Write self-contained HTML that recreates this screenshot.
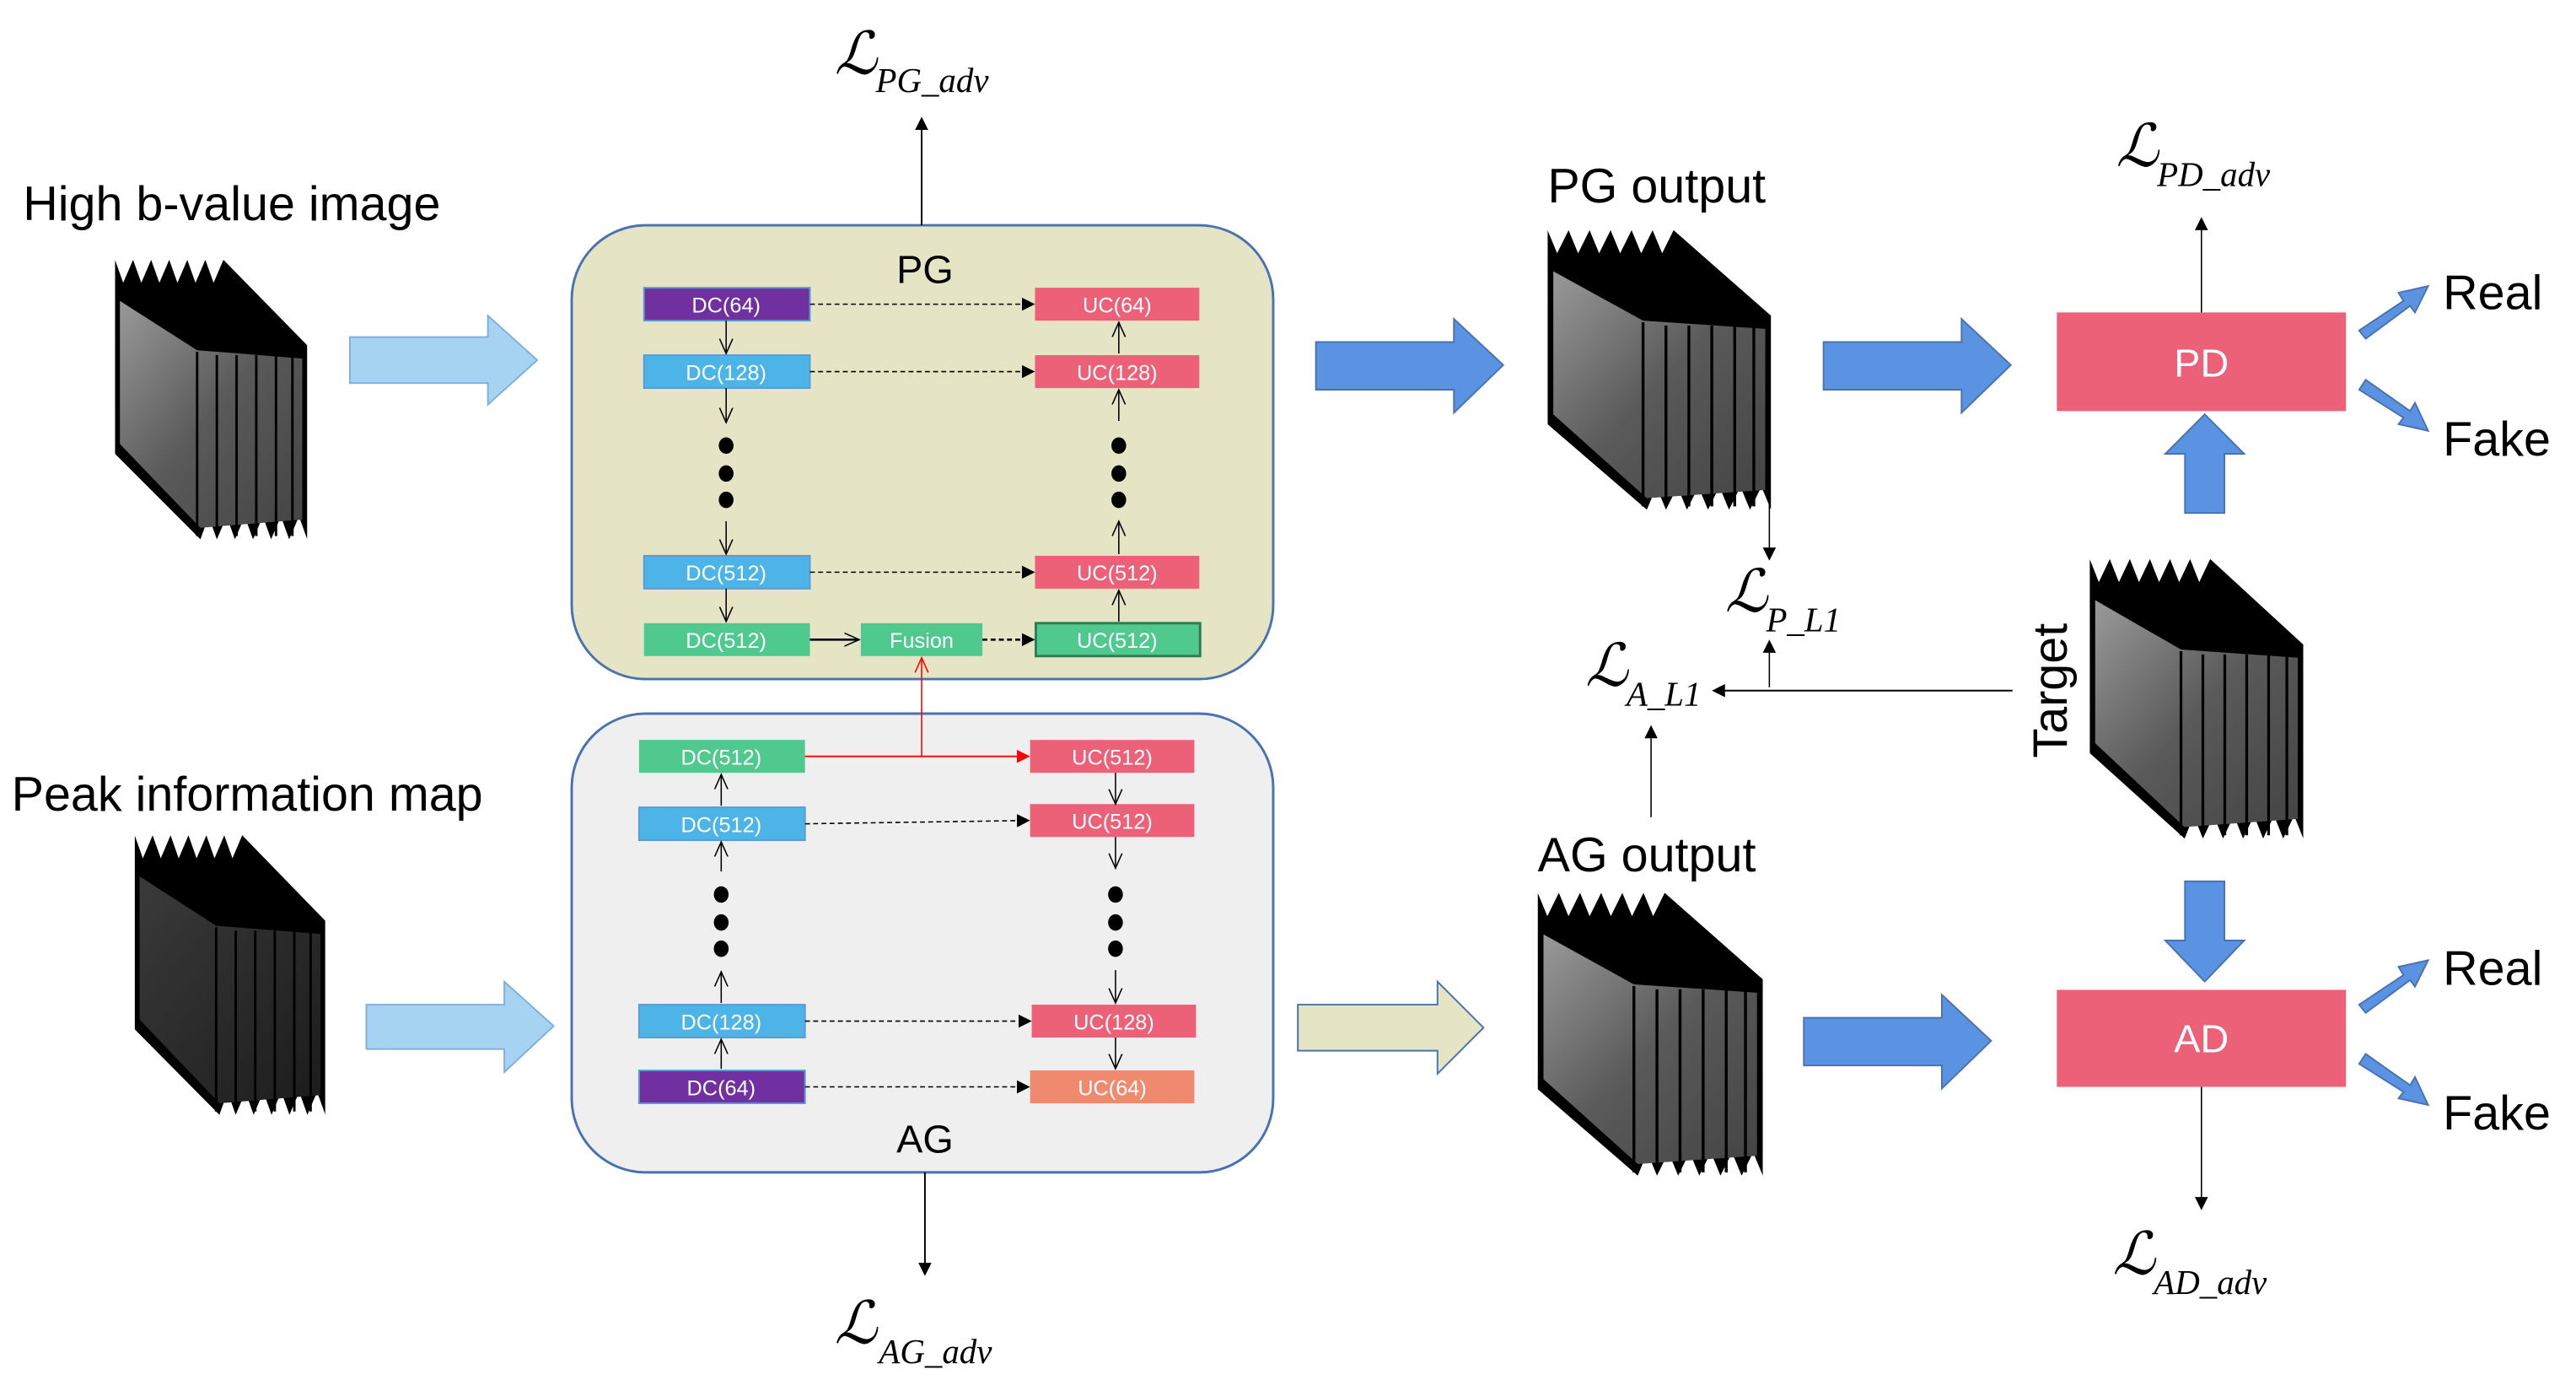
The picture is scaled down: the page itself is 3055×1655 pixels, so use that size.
<!DOCTYPE html>
<html><head><meta charset="utf-8"><style>
html,body{margin:0;padding:0;background:#fff;}
svg{display:block;}
text{font-family:"Liberation Sans",sans-serif;}
.l{font-family:"Liberation Serif","DejaVu Serif",serif;font-style:italic;}
.bx{font-size:13px;fill:#fff;text-anchor:middle;}
</style></head><body>
<svg width="3055" height="1655" viewBox="0 0 1568 849" preserveAspectRatio="none" xmlns="http://www.w3.org/2000/svg">
<defs>
<marker id="ah" markerWidth="8" markerHeight="8" refX="7" refY="4" orient="auto" markerUnits="userSpaceOnUse"><path d="M0,0 L8,4 L0,8 Z" fill="#000"/></marker>
<marker id="ahr" markerWidth="8" markerHeight="8" refX="7" refY="4" orient="auto" markerUnits="userSpaceOnUse"><path d="M0,0 L8,4 L0,8 Z" fill="#f00"/></marker>
<marker id="oa" markerWidth="10" markerHeight="10" refX="9" refY="5" orient="auto" markerUnits="userSpaceOnUse"><path d="M0,1 L9,5 L0,9" fill="none" stroke="#000" stroke-width="0.8"/></marker>
<marker id="oar" markerWidth="10" markerHeight="10" refX="9" refY="5" orient="auto" markerUnits="userSpaceOnUse"><path d="M0,1 L9,5 L0,9" fill="none" stroke="#f00" stroke-width="0.8"/></marker>
<linearGradient id="gray" x1="0" y1="0" x2="1" y2="1"><stop offset="0" stop-color="#999"/><stop offset="0.5" stop-color="#5a5a5a"/><stop offset="1" stop-color="#444"/></linearGradient>
<linearGradient id="dark" x1="0" y1="0" x2="1" y2="1"><stop offset="0" stop-color="#3a3a3a"/><stop offset="1" stop-color="#1c1c1c"/></linearGradient>
<symbol id="stk" viewBox="0 0 117 170" preserveAspectRatio="none">
<polygon points="0,0 5,14 11,0 16,14 22,0 27,14 33,0 38,14 44,0 49,14 55,0 60,14 66,0 117,52 117,170 112,156 106,170 101,156 95,170 90,156 84,170 79,156 73,170 68,156 62,170 57,156 52,170 0,118" fill="#000"/>
<polygon points="3,25 50,55 114,60 114,158 52,163 3,112" fill="url(#gray)"/>
<g stroke="#000" stroke-width="1.5"><line x1="50" y1="56" x2="50" y2="168"/><line x1="62" y1="58" x2="62" y2="168"/><line x1="74" y1="58" x2="74" y2="168"/><line x1="86" y1="58" x2="86" y2="168"/><line x1="98" y1="58" x2="98" y2="168"/><line x1="108" y1="58" x2="108" y2="168"/></g>
</symbol>
<symbol id="stkd" viewBox="0 0 117 170" preserveAspectRatio="none">
<polygon points="0,0 5,14 11,0 16,14 22,0 27,14 33,0 38,14 44,0 49,14 55,0 60,14 66,0 117,52 117,170 112,156 106,170 101,156 95,170 90,156 84,170 79,156 73,170 68,156 62,170 57,156 52,170 0,118" fill="#000"/>
<polygon points="3,25 50,55 114,60 114,158 52,163 3,112" fill="url(#dark)"/>
<g stroke="#000" stroke-width="1.5"><line x1="50" y1="56" x2="50" y2="168"/><line x1="62" y1="58" x2="62" y2="168"/><line x1="74" y1="58" x2="74" y2="168"/><line x1="86" y1="58" x2="86" y2="168"/><line x1="98" y1="58" x2="98" y2="168"/><line x1="108" y1="58" x2="108" y2="168"/></g>
</symbol>
</defs>

<text x="14" y="134" font-size="29.5">High b-value image</text>
<text x="7" y="493" font-size="29.5">Peak information map</text>

<use href="#stk" x="70" y="158" width="117" height="170"/>
<use href="#stkd" x="82" y="508" width="116" height="170"/>

<path d="M213,205 H297 V192 L327,219 L297,246 V233 H213 Z" fill="#a7d3f2" stroke="#7fb0dc" stroke-width="1"/>
<path d="M223,611 H307 V597 L337,624 L307,652 V638 H223 Z" fill="#a7d3f2" stroke="#7fb0dc" stroke-width="1"/>

<!-- PG box -->
<rect x="348" y="137" width="427" height="276" rx="45" fill="#e5e5c5" stroke="#4a72b0" stroke-width="1.5"/>
<text x="563" y="172" font-size="24" text-anchor="middle">PG</text>
<line x1="561" y1="137" x2="561" y2="72" stroke="#000" stroke-width="1" marker-end="url(#ah)"/>
<text x="508" y="45" class="l" font-size="36">ℒ</text><text x="533" y="56" class="l" font-size="21">PG_adv</text>

<rect x="392" y="175" width="101" height="20" fill="#7030a0" stroke="#5b9bd5" stroke-width="1"/><text x="442" y="190" class="bx">DC(64)</text>
<rect x="392" y="216" width="101" height="20" fill="#4db4e8" stroke="#5b9bd5" stroke-width="1"/><text x="442" y="231" class="bx">DC(128)</text>
<rect x="392" y="338" width="101" height="20" fill="#4db4e8" stroke="#5b9bd5" stroke-width="1"/><text x="442" y="353" class="bx">DC(512)</text>
<rect x="392" y="379" width="101" height="20" fill="#4fc98e"/><text x="442" y="394" class="bx">DC(512)</text>
<rect x="524" y="379" width="74" height="20" fill="#4fc98e"/><text x="561" y="394" class="bx">Fusion</text>
<rect x="630" y="175" width="100" height="20" fill="#ec6078"/><text x="680" y="190" class="bx">UC(64)</text>
<rect x="630" y="216" width="100" height="20" fill="#ec6078"/><text x="680" y="231" class="bx">UC(128)</text>
<rect x="630" y="338" width="100" height="20" fill="#ec6078"/><text x="680" y="353" class="bx">UC(512)</text>
<rect x="630.5" y="379" width="100" height="20" fill="#4fc98e" stroke="#2e7d50" stroke-width="1.5"/><text x="680" y="394" class="bx">UC(512)</text>
<g stroke="#000" stroke-width="0.8" stroke-dasharray="3,2">
<line x1="493" y1="185" x2="629" y2="185" marker-end="url(#ah)"/>
<line x1="493" y1="226" x2="629" y2="226" marker-end="url(#ah)"/>
<line x1="493" y1="348" x2="629" y2="348" marker-end="url(#ah)"/>
<line x1="598" y1="389" x2="629" y2="389" marker-end="url(#ah)" stroke-width="1.3"/>
</g>
<line x1="493" y1="389" x2="523" y2="389" stroke="#000" stroke-width="1.3" marker-end="url(#oa)"/>
<g stroke="#000" stroke-width="0.8">
<line x1="442" y1="195" x2="442" y2="215" marker-end="url(#oa)"/>
<line x1="442" y1="236" x2="442" y2="257" marker-end="url(#oa)"/>
<line x1="442" y1="317" x2="442" y2="337" marker-end="url(#oa)"/>
<line x1="442" y1="358" x2="442" y2="378" marker-end="url(#oa)"/>
<line x1="681" y1="215" x2="681" y2="196" marker-end="url(#oa)"/>
<line x1="681" y1="256" x2="681" y2="237" marker-end="url(#oa)"/>
<line x1="681" y1="337" x2="681" y2="317" marker-end="url(#oa)"/>
<line x1="681" y1="378" x2="681" y2="359" marker-end="url(#oa)"/>
</g>
<g fill="#000"><ellipse cx="442" cy="271" rx="4.5" ry="5"/><ellipse cx="442" cy="288" rx="4.5" ry="5"/><ellipse cx="442" cy="304" rx="4.5" ry="5"/>
<ellipse cx="681" cy="271" rx="4.5" ry="5"/><ellipse cx="681" cy="288" rx="4.5" ry="5"/><ellipse cx="681" cy="304" rx="4.5" ry="5"/></g>

<!-- AG box -->
<rect x="348" y="434" width="427" height="279" rx="45" fill="#efefef" stroke="#4a72b0" stroke-width="1.5"/>
<text x="563" y="701" font-size="24" text-anchor="middle">AG</text>
<line x1="563" y1="713" x2="563" y2="775" stroke="#000" stroke-width="1" marker-end="url(#ah)"/>
<text x="508" y="817" class="l" font-size="36">ℒ</text><text x="535" y="829" class="l" font-size="21">AG_adv</text>

<rect x="389" y="450" width="101" height="20" fill="#4fc98e"/><text x="439" y="465" class="bx">DC(512)</text>
<rect x="389" y="491" width="101" height="20" fill="#4db4e8" stroke="#5b9bd5" stroke-width="1"/><text x="439" y="506" class="bx">DC(512)</text>
<rect x="389" y="611" width="101" height="20" fill="#4db4e8" stroke="#5b9bd5" stroke-width="1"/><text x="439" y="626" class="bx">DC(128)</text>
<rect x="389" y="651" width="101" height="20" fill="#7030a0" stroke="#5b9bd5" stroke-width="1"/><text x="439" y="666" class="bx">DC(64)</text>
<rect x="627" y="450" width="100" height="20" fill="#ec6078"/><text x="677" y="465" class="bx">UC(512)</text>
<rect x="627" y="489" width="100" height="20" fill="#ec6078"/><text x="677" y="504" class="bx">UC(512)</text>
<rect x="628" y="611" width="100" height="20" fill="#ec6078"/><text x="678" y="626" class="bx">UC(128)</text>
<rect x="627" y="651" width="100" height="20" fill="#f08a6e"/><text x="677" y="666" class="bx">UC(64)</text>
<line x1="490" y1="460" x2="626" y2="460" stroke="#f00" stroke-width="1" marker-end="url(#ahr)"/>
<line x1="561" y1="460" x2="561" y2="400" stroke="#f00" stroke-width="0.8" marker-end="url(#oar)"/>
<g stroke="#000" stroke-width="0.8" stroke-dasharray="3,2">
<line x1="490" y1="501" x2="626" y2="499" marker-end="url(#ah)"/>
<line x1="490" y1="621" x2="627" y2="621" marker-end="url(#ah)"/>
<line x1="490" y1="661" x2="626" y2="661" marker-end="url(#ah)"/>
</g>
<g stroke="#000" stroke-width="0.8">
<line x1="439" y1="490" x2="439" y2="471" marker-end="url(#oa)"/>
<line x1="439" y1="530" x2="439" y2="512" marker-end="url(#oa)"/>
<line x1="439" y1="610" x2="439" y2="591" marker-end="url(#oa)"/>
<line x1="439" y1="650" x2="439" y2="632" marker-end="url(#oa)"/>
<line x1="679" y1="470" x2="679" y2="489" marker-end="url(#oa)"/>
<line x1="679" y1="509" x2="679" y2="528" marker-end="url(#oa)"/>
<line x1="679" y1="590" x2="679" y2="610" marker-end="url(#oa)"/>
<line x1="679" y1="631" x2="679" y2="650" marker-end="url(#oa)"/>
</g>
<g fill="#000"><ellipse cx="439" cy="544" rx="4.5" ry="5"/><ellipse cx="439" cy="561" rx="4.5" ry="5"/><ellipse cx="439" cy="577" rx="4.5" ry="5"/>
<ellipse cx="679" cy="544" rx="4.5" ry="5"/><ellipse cx="679" cy="561" rx="4.5" ry="5"/><ellipse cx="679" cy="577" rx="4.5" ry="5"/></g>

<!-- block arrows -->
<path d="M801,208 H885 V194 L915,222 L885,251 V237 H801 Z" fill="#5b93e3" stroke="#4a72b0" stroke-width="1"/>
<path d="M790,611 H875 V597 L903,625 L875,653 V639 H790 Z" fill="#e5e5c5" stroke="#4a72b0" stroke-width="1"/>
<path d="M1110,208 H1194 V194 L1224,222 L1194,251 V237 H1110 Z" fill="#5b93e3" stroke="#4a72b0" stroke-width="1"/>
<path d="M1098,619 H1182 V605 L1212,633 L1182,662 V648 H1098 Z" fill="#5b93e3" stroke="#4a72b0" stroke-width="1"/>
<path d="M1330,312 V276 H1318 L1342,252 L1366,276 H1354 V312 Z" fill="#5b93e3" stroke="#4a72b0" stroke-width="1"/>
<path d="M1330,536 V572 H1318 L1342,597 L1366,572 H1354 V536 Z" fill="#5b93e3" stroke="#4a72b0" stroke-width="1"/>

<!-- PG output -->
<text x="942" y="123" font-size="29.5">PG output</text>
<use href="#stk" x="942" y="140" width="136" height="170"/>
<line x1="1077" y1="290" x2="1077" y2="340" stroke="#000" stroke-width="0.8" marker-end="url(#ah)"/>
<text x="1050" y="372" class="l" font-size="36">ℒ</text><text x="1075" y="384" class="l" font-size="21">P_L1</text>
<line x1="1077" y1="418" x2="1077" y2="390" stroke="#000" stroke-width="0.8" marker-end="url(#ah)"/>

<text x="965" y="417" class="l" font-size="36">ℒ</text><text x="990" y="429" class="l" font-size="21">A_L1</text>
<line x1="1225" y1="420" x2="1043" y2="420" stroke="#000" stroke-width="1" marker-end="url(#ah)"/>
<line x1="1005" y1="497" x2="1005" y2="442" stroke="#000" stroke-width="0.8" marker-end="url(#ah)"/>

<!-- AG output -->
<text x="936" y="530" font-size="29.5">AG output</text>
<use href="#stk" x="936" y="543" width="137" height="172"/>

<!-- Target -->
<use href="#stk" x="1272" y="340" width="130" height="170"/>
<text x="0" y="0" font-size="29.5" text-anchor="middle" transform="translate(1258,420) rotate(-90)">Target</text>

<!-- PD -->
<rect x="1252" y="190" width="176" height="60" fill="#ec6078"/>
<text x="1340" y="229" font-size="24" fill="#fff" text-anchor="middle">PD</text>
<line x1="1340" y1="190" x2="1340" y2="133" stroke="#000" stroke-width="0.8" marker-end="url(#ah)"/>
<text x="1288" y="101" class="l" font-size="36">ℒ</text><text x="1313" y="113" class="l" font-size="21">PD_adv</text>
<text x="1487" y="188" font-size="29.5">Real</text>
<text x="1487" y="277" font-size="29.5">Fake</text>
<path d="M1436,201 L1463,183 L1460,178 L1478,174 L1470,190 L1467,186 L1440,206 Z" fill="#5b93e3" stroke="#4a72b0" stroke-width="1"/>
<path d="M1436,237 L1440,231 L1467,250 L1470,245 L1478,262 L1460,258 L1463,254 Z" fill="#5b93e3" stroke="#4a72b0" stroke-width="1"/>

<!-- AD -->
<rect x="1252" y="602" width="176" height="59" fill="#ec6078"/>
<text x="1340" y="640" font-size="24" fill="#fff" text-anchor="middle">AD</text>
<line x1="1340" y1="661" x2="1340" y2="735" stroke="#000" stroke-width="0.8" marker-end="url(#ah)"/>
<text x="1286" y="775" class="l" font-size="36">ℒ</text><text x="1311" y="787" class="l" font-size="21">AD_adv</text>
<text x="1487" y="599" font-size="29.5">Real</text>
<text x="1487" y="687" font-size="29.5">Fake</text>
<path d="M1436,611 L1463,593 L1460,588 L1478,584 L1470,600 L1467,596 L1440,616 Z" fill="#5b93e3" stroke="#4a72b0" stroke-width="1"/>
<path d="M1436,647 L1440,641 L1467,660 L1470,655 L1478,672 L1460,668 L1463,664 Z" fill="#5b93e3" stroke="#4a72b0" stroke-width="1"/>
</svg>
</body></html>
